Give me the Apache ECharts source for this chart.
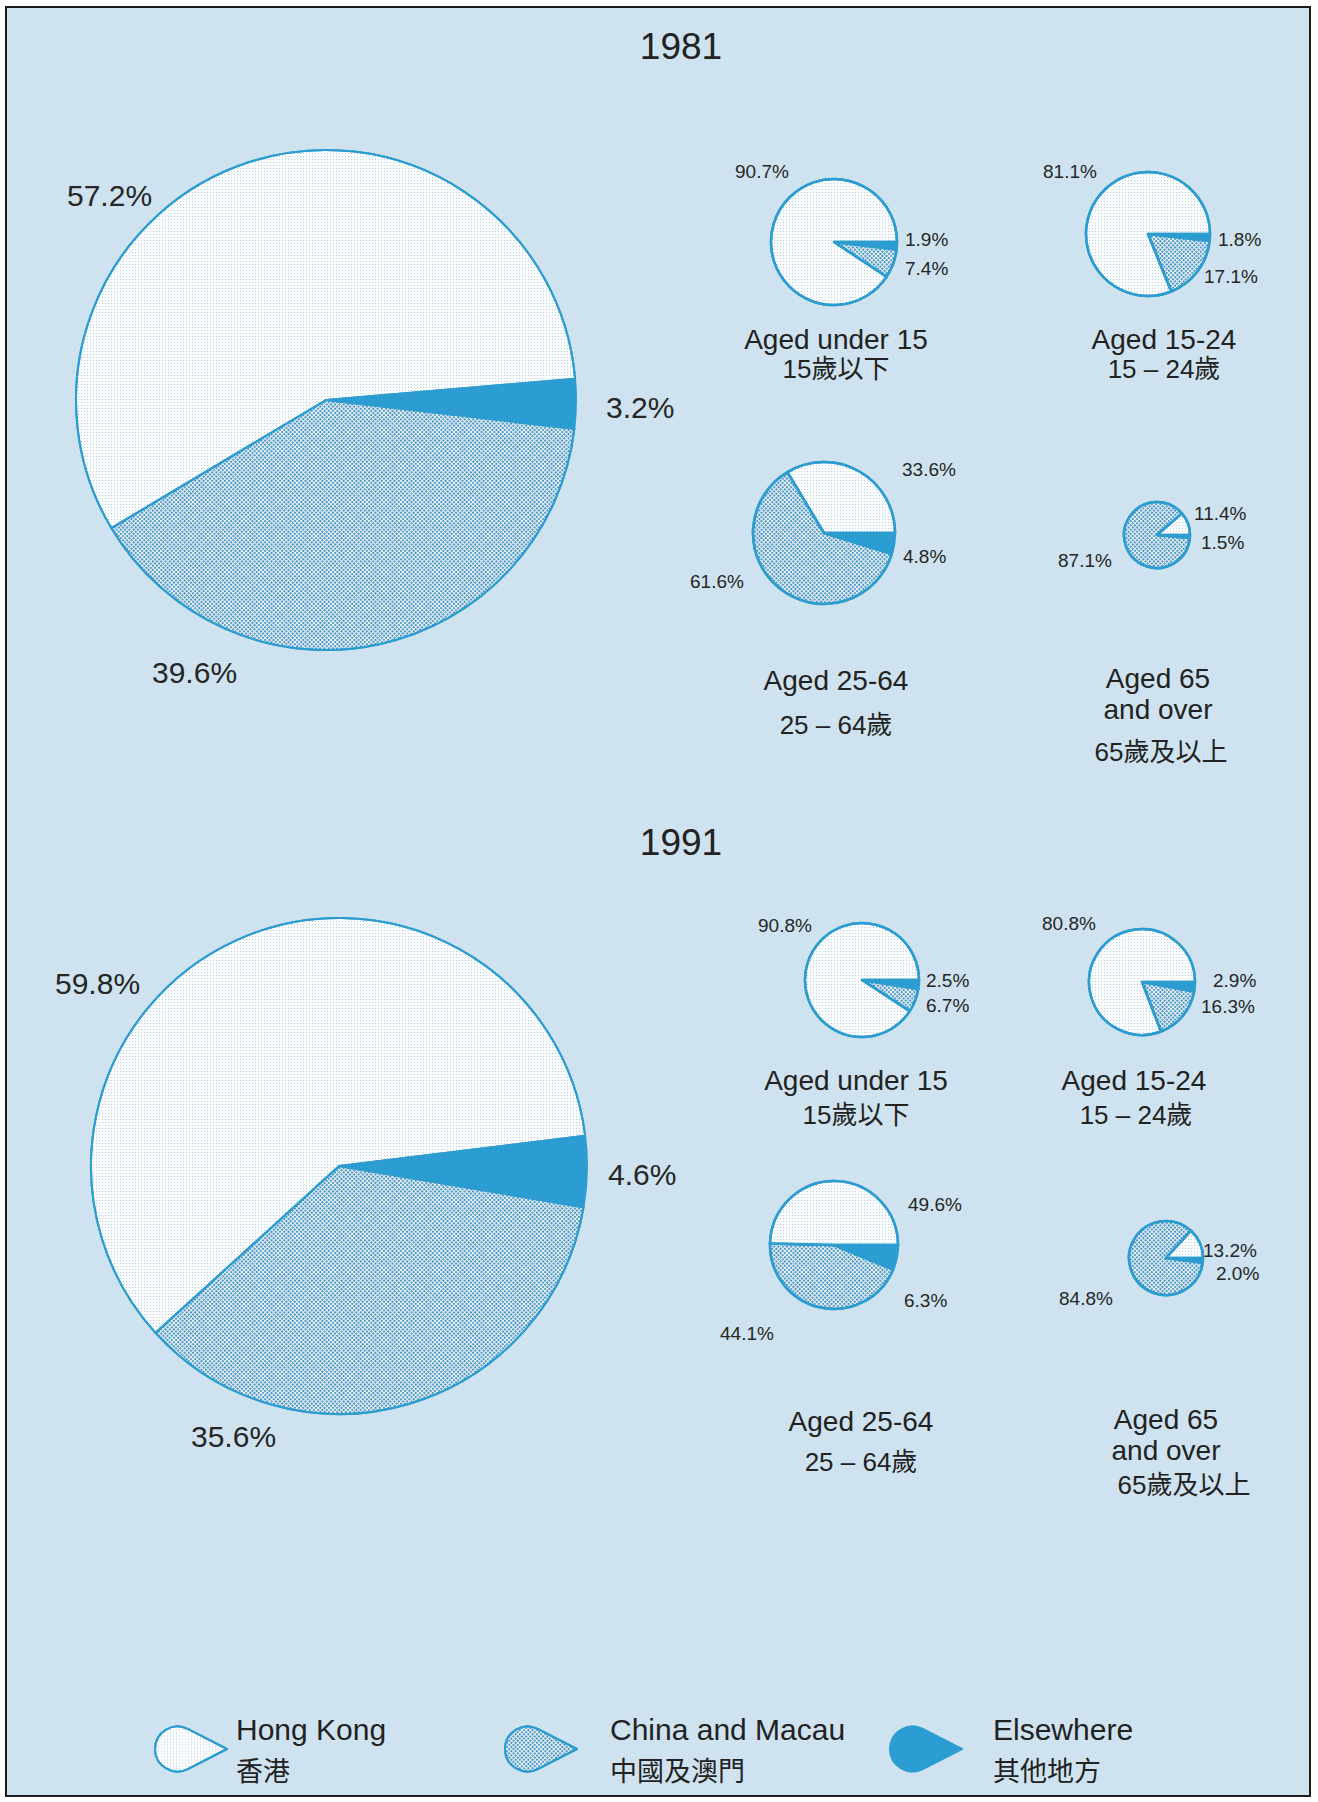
<!DOCTYPE html>
<html>
<head>
<meta charset="utf-8">
<script src="https://cdn.jsdelivr.net/npm/echarts@6/dist/echarts.min.js"></script>
<style>
  html, body { margin: 0; padding: 0; background: #fff; }
  #chart { width: 1318px; height: 1802px; }
</style>
</head>
<body>
<div id="chart"></div>
<script>
// slice order is clockwise from the start angle: Elsewhere, China and Macau, Hong Kong
const regions = ['Elsewhere', 'China and Macau', 'Hong Kong']
const regionsZh = ['其他地方', '中國及澳門', '香港']

// 1981 (%)
const all1981 = [3.2, 39.6, 57.2]
const under15_1981 = [1.9, 7.4, 90.7]
const age15to24_1981 = [1.8, 17.1, 81.1]
const age25to64_1981 = [4.8, 61.6, 33.6]
const age65plus_1981 = [1.5, 87.1, 11.4]

// 1991 (%)
const all1991 = [4.6, 35.6, 59.8]
const under15_1991 = [2.5, 6.7, 90.8]
const age15to24_1991 = [2.9, 16.3, 80.8]
const age25to64_1991 = [6.3, 44.1, 49.6]
const age65plus_1991 = [2.0, 84.8, 13.2]

const seriesValues = [
  all1981, under15_1981, age15to24_1981, age25to64_1981, age65plus_1981,
  all1991, under15_1991, age15to24_1991, age25to64_1991, age65plus_1991,
]

// 版式: [cx, cy, r, startAngle, borderWidth]
const pieLayout = [
  [326, 400, 250, 4.9, 2],
  [834, 242, 63, 0, 2.5],
  [1148, 234, 62, 0, 2.5],
  [824, 533, 71, 0, 2.5],
  [1157, 535, 33, 0, 2.5],
  [339, 1166, 248, 7.0, 2],
  [862, 980, 57, 0, 2.5],
  [1142, 982, 53, 0, 2.5],
  [834, 1245, 64, 0, 2.5],
  [1166, 1258, 37, 0, 2.5],
]

// label anchors (left edge, middle) for [Elsewhere, China, Hong Kong]
const labelPos = [
  [[606, 407], [152, 672], [67, 195]],
  [[905, 239], [905, 268], [735, 171]],
  [[1218, 239], [1204, 276], [1043, 171]],
  [[903, 556], [690, 581], [902, 469]],
  [[1201, 542], [1058, 560], [1194, 513]],
  [[608, 1174], [191, 1436], [55, 983]],
  [[926, 980], [926, 1005], [758, 925]],
  [[1213, 980], [1201, 1006], [1042, 923]],
  [[904, 1300], [720, 1333], [908, 1204]],
  [[1216, 1273], [1059, 1298], [1203, 1250]],
]

const EN = "'Liberation Sans', Arial, 'Noto Sans CJK TC', sans-serif"
const BG = '#cee3ef'
const EDGE = '#2d9dd0'

const sliceStyles = [
  { color: '#2b9dd3' },
  {
    color: '#eaf2f7',
    decal: {
      symbol: 'rect', symbolSize: 1, color: 'rgba(50,135,185,0.85)',
      dashArrayX: [2, 1], dashArrayY: [2, 1], rotation: Math.PI / 4,
    },
  },
  {
    color: '#fbfcfd',
    decal: {
      symbol: 'rect', symbolSize: 1, color: 'rgba(120,165,195,0.5)',
      dashArrayX: [1, 2], dashArrayY: [1, 2], rotation: 0,
    },
  },
]

const series = seriesValues.map((vals, s) => {
  const [cx, cy, r, start, bw] = pieLayout[s]
  const big = r > 200
  return {
    type: 'pie',
    center: [cx, cy],
    radius: r,
    startAngle: start,
    clockwise: true,
    avoidLabelOverlap: false,
    z: 3,
    itemStyle: { borderColor: EDGE, borderWidth: bw },
    label: {
      show: true,
      position: 'outside',
      formatter: p => p.value.toFixed(1) + '%',
      fontFamily: EN,
      fontSize: big ? 30 : 19,
      color: '#262626',
    },
    labelLine: { show: false },
    labelLayout: p => {
      const [x, y] = labelPos[p.seriesIndex][p.dataIndex]
      return { x: x, y: y, align: 'left', verticalAlign: 'middle' }
    },
    emphasis: { disabled: true },
    data: vals.map((v, i) => ({ name: regions[i], value: v, itemStyle: sliceStyles[i] })),
  }
})

// 文字
const texts = [
  ['1981', 681, 46, 37],
  ['1991', 681, 842, 37],
  ['Aged under 15', 836, 339, 28], ['15歲以下', 836, 369, 26],
  ['Aged 15-24', 1164, 339, 28], ['15 – 24歲', 1164, 369, 26],
  ['Aged 25-64', 836, 680, 28], ['25 – 64歲', 836, 725, 26],
  ['Aged 65', 1158, 678, 28], ['and over', 1158, 709, 28], ['65歲及以上', 1161, 752, 26],
  ['Aged under 15', 856, 1080, 28], ['15歲以下', 856, 1115, 26],
  ['Aged 15-24', 1134, 1080, 28], ['15 – 24歲', 1136, 1115, 26],
  ['Aged 25-64', 861, 1421, 28], ['25 – 64歲', 861, 1462, 26],
  ['Aged 65', 1166, 1419, 28], ['and over', 1166, 1450, 28], ['65歲及以上', 1184, 1485, 26],
]

const dropIcon = 'path://M44,0 L9.09,-17.81 A20,20 0 1 0 9.09,17.81 Z'
const legendLeft = [884, 499, 149]
const legendGap = [26, 28, 4]

const chart = echarts.init(document.getElementById('chart'), null, { renderer: 'svg' })
chart.setOption({
  animation: false,
  backgroundColor: '#ffffff',
  legend: regions.map((name, i) => ({
    data: [name],
    left: legendLeft[i],
    top: 1709,
    icon: dropIcon,
    itemWidth: 72,
    itemHeight: 45,
    selectedMode: false,
    itemStyle: { borderWidth: 2, borderColor: EDGE },
    formatter: n => '{en|' + n + '}\n{zh|' + regionsZh[regions.indexOf(n)] + '}',
    textStyle: {
      rich: {
        en: { fontFamily: EN, fontSize: 30, lineHeight: 40, color: '#222', padding: [0, 0, 0, legendGap[i]] },
        zh: { fontFamily: "'Noto Sans CJK TC', sans-serif", fontSize: 27, lineHeight: 40, color: '#222', padding: [0, 0, 0, legendGap[i]] },
      },
    },
  })),
  graphic: [
    {
      type: 'rect',
      z: 0,
      silent: true,
      shape: { x: 6, y: 7, width: 1304, height: 1789 },
      style: { fill: BG, stroke: '#1c1c1c', lineWidth: 2 },
    },
  ].concat(texts.map(t => ({
    type: 'text',
    z: 5,
    silent: true,
    style: {
      text: t[0], x: t[1], y: t[2],
      textAlign: 'center', textVerticalAlign: 'middle',
      font: t[3] + 'px ' + EN,
      fill: '#222',
    },
  }))),
  series: series,
})
</script>
</body>
</html>
